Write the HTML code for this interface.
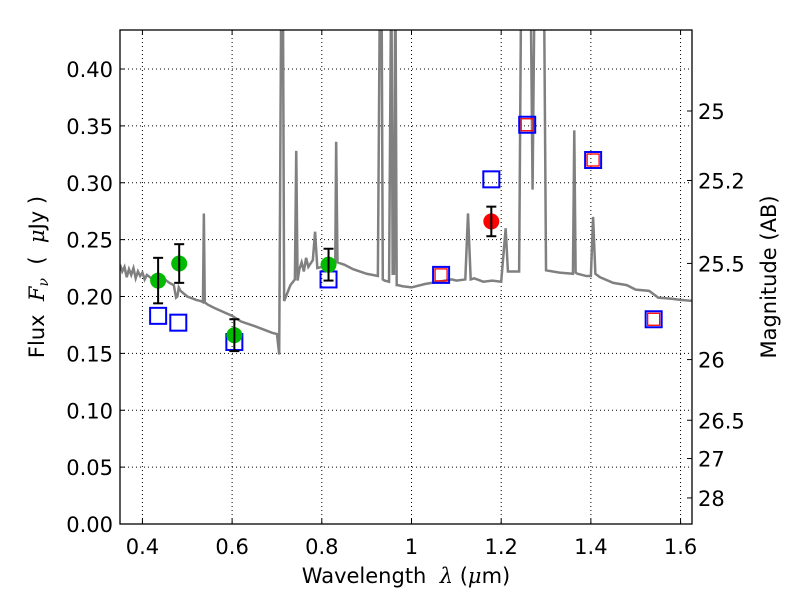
<!DOCTYPE html>
<html><head><meta charset="utf-8"><style>
body{margin:0;background:#fff;}
svg{display:block;font-family:"DejaVu Sans","Liberation Sans",sans-serif;}
.m{font-family:"DejaVu Serif","Liberation Serif",serif;font-style:italic;}
</style></head><body>
<svg id="chart" width="800" height="600">
<text x="406" y="583" font-size="21" text-anchor="middle">Wavelength&#160;&#160;<tspan class="m">λ</tspan>&#160;(<tspan class="m">μ</tspan>m)</text>
<text transform="translate(44,277) rotate(-90)" font-size="21" text-anchor="middle">Flux&#160;&#160;<tspan class="m">F<tspan font-size="14" dy="4">ν</tspan></tspan><tspan dy="-4">&#160;&#160;(&#160;&#160;</tspan><tspan class="m">μ</tspan>Jy&#160;)</text>
<text transform="translate(776,277) rotate(-90)" font-size="21" text-anchor="middle">Magnitude (AB)</text>
</svg>
<script>
const xTicks=[0.4,0.6,0.8,1.0,1.2,1.4,1.6];
const xTickLabels=["0.4","0.6","0.8","1","1.2","1.4","1.6"];
const yTicks=[0,0.05,0.1,0.15,0.2,0.25,0.3,0.35,0.4];
const yTickLabels=["0.00","0.05","0.10","0.15","0.20","0.25","0.30","0.35","0.40"];
const magTicks=[25,25.2,25.5,26,26.5,27,28];
const magTickLabels=["25","25.2","25.5","26","26.5","27","28"];
const specWave=[0.35,0.355,0.36,0.365,0.37,0.375,0.38,0.385,0.39,0.395,0.40,0.405,0.41,0.42,0.43,0.44,0.45,0.46,0.47,0.475,0.478,0.481,0.485,0.5,0.52,0.53,0.535,0.537,0.539,0.545,0.56,0.6,0.62,0.65,0.69,0.70,0.705,0.71,0.713,0.716,0.72,0.73,0.74,0.743,0.746,0.75,0.755,0.76,0.765,0.77,0.78,0.785,0.79,0.80,0.82,0.83,0.832,0.835,0.85,0.87,0.9,0.925,0.93,0.933,0.936,0.94,0.95,0.955,0.958,0.961,0.964,0.967,0.97,0.98,1.0,1.03,1.06,1.09,1.1,1.12,1.126,1.132,1.14,1.16,1.18,1.2,1.21,1.215,1.22,1.24,1.245,1.25,1.265,1.27,1.275,1.28,1.285,1.295,1.3,1.33,1.36,1.363,1.366,1.37,1.39,1.4,1.405,1.41,1.42,1.45,1.48,1.5,1.53,1.55,1.58,1.6,1.63];
const specFlux=[0.228,0.222,0.226,0.217,0.224,0.219,0.225,0.216,0.222,0.218,0.221,0.215,0.219,0.216,0.219,0.217,0.215,0.212,0.21,0.199,0.2,0.208,0.205,0.2,0.197,0.196,0.195,0.273,0.195,0.193,0.19,0.183,0.178,0.174,0.168,0.167,0.149,0.5,0.5,0.196,0.2,0.21,0.215,0.328,0.214,0.224,0.23,0.222,0.234,0.226,0.232,0.257,0.225,0.226,0.226,0.228,0.336,0.23,0.228,0.224,0.22,0.218,0.5,0.5,0.215,0.214,0.213,0.5,0.22,0.22,0.5,0.21,0.21,0.209,0.208,0.211,0.213,0.215,0.214,0.215,0.273,0.215,0.216,0.213,0.214,0.213,0.26,0.222,0.222,0.222,0.5,0.5,0.5,0.294,0.5,0.5,0.5,0.5,0.223,0.221,0.22,0.346,0.221,0.22,0.218,0.218,0.27,0.22,0.217,0.212,0.21,0.206,0.205,0.199,0.198,0.197,0.196];
const obsWave=[0.435,0.482,0.605,0.815];
const obsFlux=[0.214,0.229,0.166,0.228];
const obsErr=[0.02,0.017,0.014,0.014];
const redWave=[1.178];
const redFlux=[0.266];
const redErr=[0.013];
const modelWave=[0.435,0.48,0.605,0.815,1.066,1.178,1.258,1.405,1.54];
const modelFlux=[0.183,0.177,0.160,0.215,0.219,0.303,0.351,0.320,0.180];
const model2Wave=[1.066,1.258,1.405,1.54];
const model2Flux=[0.219,0.351,0.320,0.180];

const L=120,R=692,T=30,B=524,xmin=0.35,xmax=1.6255,ymin=0,ymax=0.4343;
const X=v=>L+(v-xmin)/(xmax-xmin)*(R-L);
const Y=v=>B-(v-ymin)/(ymax-ymin)*(B-T);
const svg=document.getElementById('chart');
const NS='http://www.w3.org/2000/svg';
function mk(tag,at,parent){const e=document.createElementNS(NS,tag);for(const k in at)e.setAttribute(k,at[k]);(parent||svg).appendChild(e);return e;}
const defs=mk('defs',{});const cp=mk('clipPath',{id:'clip'},defs);mk('rect',{x:L,y:T,width:R-L,height:B-T},cp);
const grid=mk('g',{});


xTicks.forEach((t,i)=>{
 const x=X(t);
 mk('line',{x1:x,x2:x,y1:T,y2:B,stroke:'#000','stroke-dasharray':'1,3','stroke-width':1},grid);
 mk('line',{x1:x,x2:x,y1:B,y2:B-5,stroke:'#000'});mk('line',{x1:x,x2:x,y1:T,y2:T+5,stroke:'#000'});
 const tx=mk('text',{x:x,y:B+30,'font-size':21,'text-anchor':'middle'});tx.textContent=xTickLabels[i];
 
 
});
yTicks.forEach((t,i)=>{
 const y=Y(t);
 mk('line',{x1:L,x2:R,y1:y,y2:y,stroke:'#000','stroke-dasharray':'1,3','stroke-width':1},grid);
 mk('line',{x1:L,x2:L+5,y1:y,y2:y,stroke:'#000'});
 const tx=mk('text',{x:L-7,y:y+8,'font-size':21,'text-anchor':'end'});tx.textContent=yTickLabels[i];
 
 
});
magTicks.forEach((m,i)=>{
 const y=Y(Math.pow(10,(23.9-m)/2.5));
 mk('line',{x1:R,x2:R-5,y1:y,y2:y,stroke:'#000'});
 const tx=mk('text',{x:R+6,y:y+8,'font-size':21});tx.textContent=magTickLabels[i];
 
 
});
const sp=mk('polyline',{points:specWave.map((w,i)=>X(w)+','+Y(specFlux[i])).join(' '),fill:'none',stroke:'#808080','stroke-width':2.5,'clip-path':'url(#clip)'});


modelWave.forEach((w,i)=>{
 const r=mk('rect',{x:X(w)-8,y:Y(modelFlux[i])-8,width:16,height:16,fill:'none',stroke:'#0000ff','stroke-width':2});
 
 
});
model2Wave.forEach((w,i)=>{
 const r=mk('rect',{x:X(w)-6,y:Y(model2Flux[i])-6,width:12,height:12,fill:'none',stroke:'#ff0000','stroke-width':1.3});
 
 
});
function pts(ws,fs,es,col,name){ws.forEach((w,i)=>{
 const c=mk('circle',{cx:X(w),cy:Y(fs[i]),r:8,fill:col});
 
 
 const x=X(w),y1=Y(fs[i]-es[i]),y2=Y(fs[i]+es[i]);
 const g=mk('g',{stroke:'#000','stroke-width':2});
 
 
 mk('line',{x1:x,x2:x,y1:y1,y2:y2},g);mk('line',{x1:x-5,x2:x+5,y1:y1,y2:y1},g);mk('line',{x1:x-5,x2:x+5,y1:y2,y2:y2},g);
});}
pts(obsWave,obsFlux,obsErr,'#00bb00','observed-point');
pts(redWave,redFlux,redErr,'#ff0000','observed-red-point');
const fr=mk('rect',{x:L,y:T,width:R-L,height:B-T,fill:'none',stroke:'#000','stroke-width':1.3});


</script>
</body></html>
